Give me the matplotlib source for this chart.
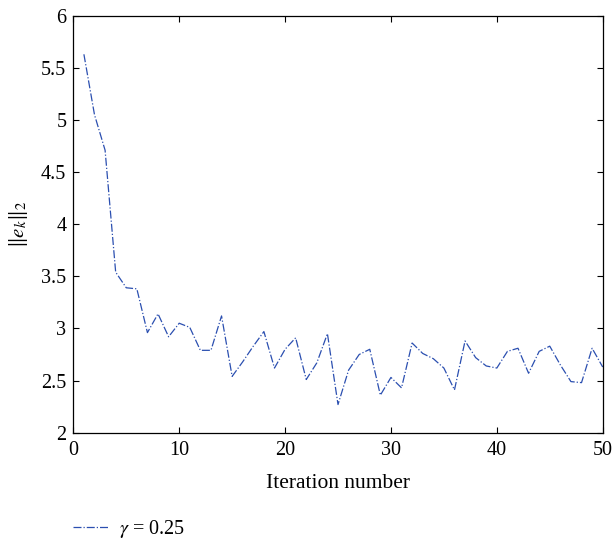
import matplotlib
matplotlib.use("Agg")
import matplotlib.pyplot as plt
from matplotlib.ticker import FuncFormatter

iterations = list(range(1, 51))
error_norm = [
    5.63, 5.05, 4.71, 3.54, 3.39, 3.38, 2.96, 3.14, 2.92, 3.05,
    3.01, 2.79, 2.79, 3.12, 2.54, 2.68, 2.83, 2.97, 2.62, 2.80,
    2.91, 2.51, 2.67, 2.95, 2.27, 2.60, 2.75, 2.80, 2.36, 2.53,
    2.43, 2.86, 2.76, 2.71, 2.62, 2.41, 2.88, 2.72, 2.64, 2.62,
    2.78, 2.81, 2.57, 2.78, 2.83, 2.65, 2.49, 2.48, 2.81, 2.63,
]
x_ticks = [0, 10, 20, 30, 40, 50]
y_ticks = [2, 2.5, 3, 3.5, 4, 4.5, 5, 5.5, 6]
series_label = r"$\gamma$ = 0.25"

plt.rcParams["font.family"] = ["Liberation Serif", "DejaVu Serif"]
plt.rcParams["mathtext.fontset"] = "stix"

fig = plt.figure(figsize=(6.12, 5.42), dpi=100)
ax = fig.add_axes([0.1198, 0.2017, 0.865, 0.7693])

line, = ax.plot(iterations, error_norm, linestyle="-.", linewidth=0.9,
                color="#2b4fb0", label=series_label)

ax.set_xlim(0, 50)
ax.set_ylim(2, 6)
ax.set_xticks(x_ticks)
ax.set_yticks(y_ticks)
ax.yaxis.set_major_formatter(FuncFormatter(lambda v, _: f"{v:g}"))
ax.tick_params(direction="in", length=4, width=0.8, labelsize=14.5,
               top=True, right=True)
ax.tick_params(axis="x", pad=6)
ax.tick_params(axis="y", pad=5)
for s in ax.spines.values():
    s.set_linewidth(0.9)

ax.set_xlabel("Iteration number", fontsize=15.5, labelpad=10)
ax.set_ylabel(r"$\Vert e_k \Vert_2$", fontsize=15, labelpad=8)

fig.legend(handles=[line], loc="center left", bbox_to_anchor=(0.119, 0.024),
           frameon=False, fontsize=14.5, handlelength=1.75, handletextpad=0.55,
           borderpad=0, borderaxespad=0)

fig.savefig("out.png", dpi=100)
